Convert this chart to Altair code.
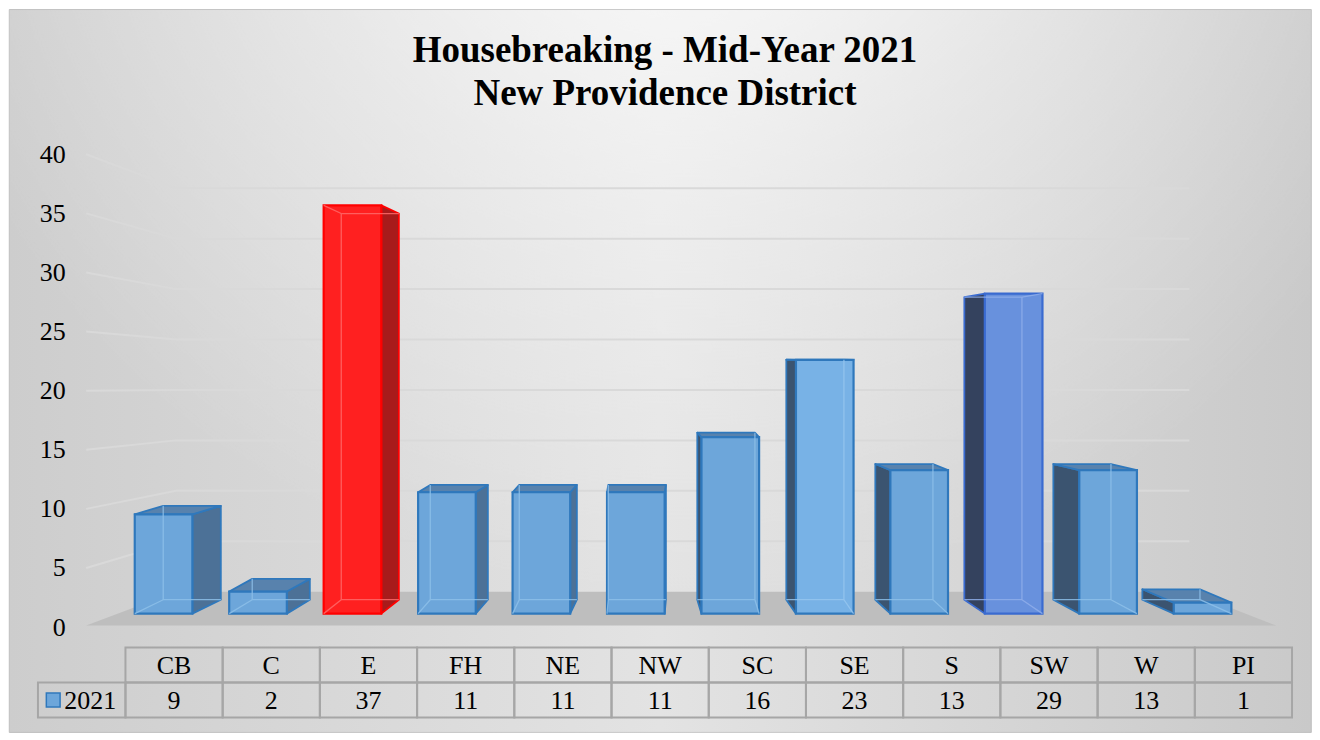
import altair as alt
import pandas as pd

# ---------------- data ----------------
categories = ["CB", "C", "E", "FH", "NE", "NW", "SC", "SE", "S", "SW", "W", "PI"]
values_2021 = [9, 2, 37, 11, 11, 11, 16, 23, 13, 29, 13, 1]
series_label = "2021"
y_ticks = [0, 5, 10, 15, 20, 25, 30, 35, 40]
title_lines = ["Housebreaking - Mid-Year 2021", "New Providence District"]

# ---------------- style ----------------
FONT = "Liberation Serif"
PALETTE = {
    "default": dict(front="#6DA6DA", edge="#2F78BC", side_r="#4C7197", side_l="#3B5470",
                    top="#5882AD", inner="#8DBFE9"),
    "SE": dict(front="#78B2E6", edge="#2F78BC", side_r="#4C7197", side_l="#3B5470",
               top="#5882AD", inner="#95C6EE"),
    "E": dict(front="#FF2020", edge="#FF0000", side_r="#A81B1B", side_l="#A81B1B",
              top="#E01E1E", inner="#FF6A6A"),
    "SW": dict(front="#6891DD", edge="#3A6BD0", side_r="#34425E", side_l="#34425E",
               top="#5A7FC4", inner="#8FAEEA"),
}
GRID_COLOR = "#d9d9d9"
FLOOR_COLOR = "#bebebe"
TABLE_LINE = "#a6a6a6"

# 3-D projection (Excel-like perspective column chart)
HALF_W = 0.305                      # half width of a front face (bar-pitch units)
DEPTH_Y0, DEPTH_YK = 1.261, 0.946   # back-face y = DEPTH_Y0 + DEPTH_YK * front y


def side_off(i):
    return (28.5 - 5.45 * i) / 94.6


def back(y):
    return DEPTH_Y0 + DEPTH_YK * y


front_rows, side_rows, top_rows, inner_rows = [], [], [], []
for i, (cat, v) in enumerate(zip(categories, values_2021)):
    st = PALETTE.get(cat, PALETTE["default"])
    off = side_off(i)
    xl, xr = i - HALF_W, i + HALF_W
    b0, bv = back(0), back(v)
    xe, xo = (xr, xl) if off >= 0 else (xl, xr)
    side_fill = st["side_r"] if off >= 0 else st["side_l"]
    front_rows.append(dict(cat=cat, value=v, base=0, x=xl, x2=xr,
                           fill=st["front"], stroke=st["edge"]))
    side_rows += [
        dict(cat=cat, x=xe, lo=0, hi=v, fill=side_fill, stroke=st["edge"]),
        dict(cat=cat, x=xe + off, lo=b0, hi=bv, fill=side_fill, stroke=st["edge"]),
    ]
    if bv > v:
        if off >= 0:
            pts = [(xl, v, v), (xl + off, v, bv), (xr, v, bv), (xr + off, bv, bv)]
        else:
            pts = [(xl + off, bv, bv), (xl, v, bv), (xr + off, v, bv), (xr, v, v)]
        top_rows += [dict(cat=cat, x=px, lo=a, hi=b, fill=st["top"], stroke=st["edge"])
                     for px, a, b in pts]
    segs = [(xo + off, b0, xo + off, bv), (xl + off, b0, xr + off, b0), (xo, 0, xo + off, b0)]
    if bv <= v:
        segs += [(xl + off, bv, xr + off, bv), (xo, v, xo + off, bv)]
    inner_rows += [dict(cat=cat, x=a, y=b, x2=c, y2=d, color=st["inner"]) for a, b, c, d in segs]

front_df = pd.DataFrame(front_rows)
side_df = pd.DataFrame(side_rows)
top_df = pd.DataFrame(top_rows)
inner_df = pd.DataFrame(inner_rows)

# back wall / floor of the 3-D box (label-scale units)
GRID_LEFT_X, WALL_X0, WALL_X1, FLOOR_X1 = -0.819, 0.132, 10.86, 11.78


def wall_y(g):
    return 3.0 + 0.853 * g


grid_rows = []
for g in y_ticks[1:]:
    grid_rows += [dict(g=g, x=GRID_LEFT_X, y=g), dict(g=g, x=WALL_X0, y=wall_y(g)),
                  dict(g=g, x=WALL_X1, y=wall_y(g))]
grid_df = pd.DataFrame(grid_rows)
floor_df = pd.DataFrame([
    dict(x=GRID_LEFT_X, lo=0.127, hi=0.127), dict(x=WALL_X0, lo=0.127, hi=wall_y(0)),
    dict(x=WALL_X1, lo=0.127, hi=wall_y(0)), dict(x=FLOOR_X1, lo=0.127, hi=0.127),
])

# ---------------- scales ----------------
PLOT_W, PLOT_H, TABLE_H = 1256, 500.5, 70
X_DOM = [-1.3298, 11.9471]
X_TOP = alt.Scale(domain=X_DOM, nice=False, zero=False)
LAB_Y = alt.Scale(domain=[0, 42.272], nice=False, zero=False)
BAR_Y = alt.Scale(domain=[-1.2217, 44.072], nice=False, zero=False)
# chart-area backdrop (covers whole chart frame, incl. title and table area)
BG_X, BG_Y = [-1.6332, 12.151], [-8.91, 52.238]


def xq(field):
    return alt.X(field, type="quantitative", scale=X_TOP, axis=None)


lin_grad = {
    "gradient": "linear", "x1": 0, "y1": 0, "x2": 1, "y2": 0,
    "stops": [{"offset": 0, "color": "#cdcdcd"}, {"offset": 0.5, "color": "#e3e3e3"},
              {"offset": 1, "color": "#c9c9c9"}],
}
glow_grad = {
    "gradient": "radial", "x1": 0.52, "y1": 0.06, "r1": 0, "x2": 0.52, "y2": 0.06, "r2": 0.62,
    "stops": [{"offset": 0, "color": "rgba(255,255,255,0.9)"},
              {"offset": 0.5, "color": "rgba(255,255,255,0.4)"},
              {"offset": 1, "color": "rgba(255,255,255,0)"}],
}
bg_df = pd.DataFrame([dict(x=BG_X[0], x2=BG_X[1], y=BG_Y[0], y2=BG_Y[1])])
backdrop = alt.Chart(bg_df).mark_rect(fill=lin_grad, stroke="#bfbfbf", strokeWidth=1).encode(
    x=xq("x"), x2="x2:Q", y=alt.Y("y:Q", scale=LAB_Y, axis=None), y2="y2:Q")
glow = alt.Chart(bg_df).mark_rect(fill=glow_grad, strokeWidth=0).encode(
    x=xq("x"), x2="x2:Q", y=alt.Y("y:Q", scale=LAB_Y, axis=None), y2="y2:Q")

floor = alt.Chart(floor_df).mark_area(color=FLOOR_COLOR, opacity=1).encode(
    x=xq("x"), y=alt.Y("lo:Q", scale=LAB_Y, axis=None), y2="hi:Q")

grid = alt.Chart(grid_df).mark_line(color=GRID_COLOR, strokeWidth=2).encode(
    x=xq("x"),
    y=alt.Y("y:Q", scale=LAB_Y,
            axis=alt.Axis(values=y_ticks, grid=False, domain=False, ticks=False,
                          labelPadding=-27.3, labelFont=FONT, labelFontSize=26,
                          labelColor="#000000", title=None, zindex=2)),
    detail="g:N")

sides = alt.Chart(side_df).mark_area(strokeWidth=1.8, strokeJoin="round", opacity=1).encode(
    x=xq("x"), y=alt.Y("lo:Q", scale=BAR_Y, axis=None), y2="hi:Q", detail="cat:N",
    fill=alt.Fill("fill:N", scale=None), stroke=alt.Stroke("stroke:N", scale=None))

tops = alt.Chart(top_df).mark_area(strokeWidth=1.8, strokeJoin="round", opacity=1).encode(
    x=xq("x"), y=alt.Y("lo:Q", scale=BAR_Y, axis=None), y2="hi:Q", detail="cat:N",
    fill=alt.Fill("fill:N", scale=None), stroke=alt.Stroke("stroke:N", scale=None))

fronts = alt.Chart(front_df).mark_rect(strokeWidth=2.2, opacity=1).encode(
    x=xq("x"), x2="x2:Q",
    y=alt.Y("value:Q", scale=BAR_Y, axis=None), y2="base:Q",
    fill=alt.Fill("fill:N", scale=None), stroke=alt.Stroke("stroke:N", scale=None))

inner = alt.Chart(inner_df).mark_rule(strokeWidth=1.3, opacity=0.85).encode(
    x=xq("x"), x2="x2:Q", y=alt.Y("y:Q", scale=BAR_Y, axis=None), y2="y2:Q",
    stroke=alt.Stroke("color:N", scale=None))

top = alt.layer(backdrop, glow, floor, grid, sides, tops, fronts, inner).resolve_scale(
    y="independent").properties(
    width=PLOT_W, height=PLOT_H,
    title=alt.TitleParams(text=title_lines, font=FONT, fontSize=37, fontWeight="bold",
                          lineHeight=43, color="#000000", anchor="middle", baseline="top",
                          offset=-104.4, dx=0),
)

# ---------------- data table ----------------
X_TAB = alt.Scale(domain=[-1.4, 11.5], nice=False, zero=False)
ROW = alt.Scale(domain=["h", "v"], paddingInner=0, paddingOuter=0)

cell_rows = [dict(x=i - 0.5, x2=i + 0.5, row="h") for i in range(len(categories))]
cell_rows += [dict(x=i - 0.5, x2=i + 0.5, row="v") for i in range(len(categories))]
cell_rows += [dict(x=-1.4, x2=-0.5, row="v")]
cells_df = pd.DataFrame(cell_rows)

text_rows = [dict(x=i, row="h", label=c) for i, c in enumerate(categories)]
text_rows += [dict(x=i, row="v", label=str(v)) for i, v in enumerate(values_2021)]
text_df = pd.DataFrame(text_rows)

legend_df = pd.DataFrame([dict(x=-1.243, tx=-1.13, row="v", label=series_label)])


def xt(field):
    return alt.X(field, type="quantitative", scale=X_TAB, axis=None)


cells = alt.Chart(cells_df).mark_rect(fill="#ffffff", fillOpacity=0, stroke=TABLE_LINE,
                                      strokeWidth=2).encode(
    x=xt("x"), x2="x2:Q", y=alt.Y("row:N", scale=ROW, axis=None))

texts = alt.Chart(text_df).mark_text(font=FONT, fontSize=26, color="#000000",
                                     baseline="middle", dy=1).encode(
    x=xt("x"), y=alt.Y("row:N", scale=ROW, axis=None), text="label:N")

legend_sq = alt.Chart(legend_df).mark_point(shape="square", filled=True, size=190,
                                            fill=PALETTE["default"]["front"],
                                            stroke=PALETTE["default"]["edge"],
                                            strokeWidth=1.5, opacity=1).encode(
    x=xt("x"), y=alt.Y("row:N", scale=ROW, axis=None))

legend_tx = alt.Chart(legend_df).mark_text(font=FONT, fontSize=26, color="#000000",
                                           align="left", baseline="middle", dy=1).encode(
    x=xt("tx"), y=alt.Y("row:N", scale=ROW, axis=None), text="label:N")

table = alt.layer(cells, texts, legend_sq, legend_tx).properties(width=PLOT_W, height=TABLE_H)

chart = alt.vconcat(top, table, spacing=20, bounds="flush").resolve_scale(
    x="independent", y="independent").properties(
    background="#ffffff",
    padding={"left": 0, "right": 0, "top": 0, "bottom": 0},
).configure_view(stroke=None)

chart.save("out.html", embed_options={"renderer": "svg", "actions": False})
